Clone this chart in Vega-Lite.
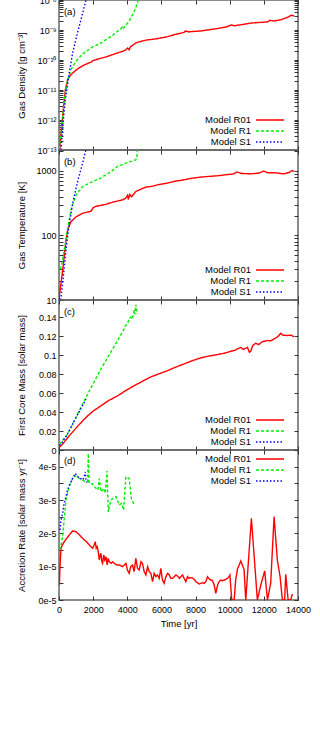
{
  "$schema": "https://vega.github.io/schema/vega-lite/v6.json",
  "padding": {"left": 15, "top": -5, "right": 5, "bottom": 5},
  "bounds": "flush",
  "spacing": 0,
  "config": {
    "font": "Liberation Sans",
    "view": {"stroke": "#666", "strokeWidth": 1.5},
    "axis": {"domain": false, "grid": false, "tickColor": "#333", "tickSize": -4, "labelFontSize": 9, "titleFontSize": 9.5, "titleFontWeight": "normal", "labelColor": "#000", "titleColor": "#000", "labelPadding": 7, "labelOverlap": false, "labelFlush": false},
    "legend": {"symbolType": "M-2.8,0H2.8", "symbolSize": 100, "symbolStrokeWidth": 1.5, "symbolOffset": 22, "labelFontSize": 9.5, "labelAlign": "right", "labelOffset": -25, "rowPadding": 0, "padding": 0, "labelLimit": 200, "labelColor": "#000"}
  },
  "datasets": {
    "density": [
      {"model": "Model R01", "t": 40, "v": 1e-13},
      {"model": "Model R01", "t": 117, "v": 3.6e-13},
      {"model": "Model R01", "t": 250, "v": 2.2e-12},
      {"model": "Model R01", "t": 370, "v": 1e-11},
      {"model": "Model R01", "t": 510, "v": 2.2e-11},
      {"model": "Model R01", "t": 650, "v": 3.0e-11},
      {"model": "Model R01", "t": 800, "v": 3.7e-11},
      {"model": "Model R01", "t": 1000, "v": 4.6e-11},
      {"model": "Model R01", "t": 1190, "v": 5.5e-11},
      {"model": "Model R01", "t": 1500, "v": 6.9e-11},
      {"model": "Model R01", "t": 1775, "v": 8.1e-11},
      {"model": "Model R01", "t": 1900, "v": 8.5e-11},
      {"model": "Model R01", "t": 1970, "v": 9.5e-11},
      {"model": "Model R01", "t": 2100, "v": 1.0e-10},
      {"model": "Model R01", "t": 2400, "v": 1.12e-10},
      {"model": "Model R01", "t": 2750, "v": 1.26e-10},
      {"model": "Model R01", "t": 3200, "v": 1.55e-10},
      {"model": "Model R01", "t": 3725, "v": 1.95e-10},
      {"model": "Model R01", "t": 3900, "v": 2.14e-10},
      {"model": "Model R01", "t": 4020, "v": 2.5e-10},
      {"model": "Model R01", "t": 4100, "v": 2.2e-10},
      {"model": "Model R01", "t": 4200, "v": 2.8e-10},
      {"model": "Model R01", "t": 4350, "v": 3.2e-10},
      {"model": "Model R01", "t": 4500, "v": 3.7e-10},
      {"model": "Model R01", "t": 4800, "v": 4.2e-10},
      {"model": "Model R01", "t": 5090, "v": 4.6e-10},
      {"model": "Model R01", "t": 5380, "v": 4.8e-10},
      {"model": "Model R01", "t": 5800, "v": 5.2e-10},
      {"model": "Model R01", "t": 6360, "v": 6.0e-10},
      {"model": "Model R01", "t": 6800, "v": 7.1e-10},
      {"model": "Model R01", "t": 7330, "v": 8.3e-10},
      {"model": "Model R01", "t": 7400, "v": 9.3e-10},
      {"model": "Model R01", "t": 7600, "v": 8.7e-10},
      {"model": "Model R01", "t": 8300, "v": 9.3e-10},
      {"model": "Model R01", "t": 8800, "v": 1.02e-9},
      {"model": "Model R01", "t": 9280, "v": 1.12e-9},
      {"model": "Model R01", "t": 9800, "v": 1.26e-9},
      {"model": "Model R01", "t": 10100, "v": 1.48e-9},
      {"model": "Model R01", "t": 10260, "v": 1.38e-9},
      {"model": "Model R01", "t": 10700, "v": 1.51e-9},
      {"model": "Model R01", "t": 11230, "v": 1.7e-9},
      {"model": "Model R01", "t": 11700, "v": 1.78e-9},
      {"model": "Model R01", "t": 12210, "v": 1.86e-9},
      {"model": "Model R01", "t": 12350, "v": 2.1e-9},
      {"model": "Model R01", "t": 12600, "v": 2.0e-9},
      {"model": "Model R01", "t": 12990, "v": 2.19e-9},
      {"model": "Model R01", "t": 13380, "v": 2.63e-9},
      {"model": "Model R01", "t": 13600, "v": 3.1e-9},
      {"model": "Model R01", "t": 13770, "v": 2.95e-9},
      {"model": "Model R1", "t": 20, "v": 1.1e-13},
      {"model": "Model R1", "t": 150, "v": 5e-13},
      {"model": "Model R1", "t": 310, "v": 4.7e-12},
      {"model": "Model R1", "t": 420, "v": 1.1e-11},
      {"model": "Model R1", "t": 510, "v": 2.2e-11},
      {"model": "Model R1", "t": 700, "v": 4.8e-11},
      {"model": "Model R1", "t": 1000, "v": 9.1e-11},
      {"model": "Model R1", "t": 1385, "v": 1.58e-10},
      {"model": "Model R1", "t": 1970, "v": 2.75e-10},
      {"model": "Model R1", "t": 2400, "v": 3.5e-10},
      {"model": "Model R1", "t": 2750, "v": 4.8e-10},
      {"model": "Model R1", "t": 3100, "v": 6.3e-10},
      {"model": "Model R1", "t": 3430, "v": 9.1e-10},
      {"model": "Model R1", "t": 3600, "v": 1.05e-9},
      {"model": "Model R1", "t": 3700, "v": 1.25e-9},
      {"model": "Model R1", "t": 3750, "v": 1.1e-9},
      {"model": "Model R1", "t": 3920, "v": 1.48e-9},
      {"model": "Model R1", "t": 4100, "v": 1.9e-9},
      {"model": "Model R1", "t": 4310, "v": 3.3e-9},
      {"model": "Model R1", "t": 4500, "v": 5.5e-9},
      {"model": "Model R1", "t": 4650, "v": 1.05e-8},
      {"model": "Model S1", "t": 117, "v": 1e-13},
      {"model": "Model S1", "t": 215, "v": 6e-13},
      {"model": "Model S1", "t": 370, "v": 4.7e-12},
      {"model": "Model S1", "t": 565, "v": 2.75e-11},
      {"model": "Model S1", "t": 800, "v": 1.74e-10},
      {"model": "Model S1", "t": 1090, "v": 8.3e-10},
      {"model": "Model S1", "t": 1345, "v": 2.95e-9},
      {"model": "Model S1", "t": 1590, "v": 1.05e-8}
    ],
    "temperature": [
      {"model": "Model R01", "t": 10, "v": 11},
      {"model": "Model R01", "t": 117, "v": 18},
      {"model": "Model R01", "t": 215, "v": 29},
      {"model": "Model R01", "t": 410, "v": 85},
      {"model": "Model R01", "t": 510, "v": 122},
      {"model": "Model R01", "t": 700, "v": 163},
      {"model": "Model R01", "t": 1000, "v": 194},
      {"model": "Model R01", "t": 1385, "v": 220},
      {"model": "Model R01", "t": 1775, "v": 233},
      {"model": "Model R01", "t": 1900, "v": 240},
      {"model": "Model R01", "t": 1970, "v": 263},
      {"model": "Model R01", "t": 2125, "v": 280},
      {"model": "Model R01", "t": 2400, "v": 290},
      {"model": "Model R01", "t": 2750, "v": 303},
      {"model": "Model R01", "t": 3200, "v": 330},
      {"model": "Model R01", "t": 3725, "v": 355},
      {"model": "Model R01", "t": 3900, "v": 375},
      {"model": "Model R01", "t": 4020, "v": 420},
      {"model": "Model R01", "t": 4060, "v": 360},
      {"model": "Model R01", "t": 4150, "v": 430},
      {"model": "Model R01", "t": 4250, "v": 395},
      {"model": "Model R01", "t": 4500, "v": 478},
      {"model": "Model R01", "t": 4800, "v": 520},
      {"model": "Model R01", "t": 5090, "v": 560},
      {"model": "Model R01", "t": 5380, "v": 571},
      {"model": "Model R01", "t": 5800, "v": 610},
      {"model": "Model R01", "t": 6360, "v": 645},
      {"model": "Model R01", "t": 6800, "v": 690},
      {"model": "Model R01", "t": 7330, "v": 726},
      {"model": "Model R01", "t": 7700, "v": 760},
      {"model": "Model R01", "t": 8300, "v": 800},
      {"model": "Model R01", "t": 8800, "v": 820},
      {"model": "Model R01", "t": 9280, "v": 837},
      {"model": "Model R01", "t": 9800, "v": 870},
      {"model": "Model R01", "t": 10260, "v": 898},
      {"model": "Model R01", "t": 10400, "v": 960},
      {"model": "Model R01", "t": 10700, "v": 910},
      {"model": "Model R01", "t": 11230, "v": 898},
      {"model": "Model R01", "t": 11700, "v": 920},
      {"model": "Model R01", "t": 12000, "v": 990},
      {"model": "Model R01", "t": 12210, "v": 935},
      {"model": "Model R01", "t": 12700, "v": 930},
      {"model": "Model R01", "t": 13180, "v": 898},
      {"model": "Model R01", "t": 13500, "v": 950},
      {"model": "Model R01", "t": 13650, "v": 1010},
      {"model": "Model R01", "t": 13770, "v": 980},
      {"model": "Model R1", "t": 10, "v": 25},
      {"model": "Model R1", "t": 150, "v": 35},
      {"model": "Model R1", "t": 310, "v": 60},
      {"model": "Model R1", "t": 510, "v": 129},
      {"model": "Model R1", "t": 700, "v": 248},
      {"model": "Model R1", "t": 1000, "v": 426},
      {"model": "Model R1", "t": 1385, "v": 570},
      {"model": "Model R1", "t": 1970, "v": 683},
      {"model": "Model R1", "t": 2400, "v": 760},
      {"model": "Model R1", "t": 2750, "v": 870},
      {"model": "Model R1", "t": 3100, "v": 1000},
      {"model": "Model R1", "t": 3430, "v": 1170},
      {"model": "Model R1", "t": 3700, "v": 1250},
      {"model": "Model R1", "t": 4020, "v": 1340},
      {"model": "Model R1", "t": 4300, "v": 1420},
      {"model": "Model R1", "t": 4500, "v": 1480},
      {"model": "Model R1", "t": 4560, "v": 1600},
      {"model": "Model R1", "t": 4600, "v": 2200},
      {"model": "Model S1", "t": 100, "v": 10},
      {"model": "Model S1", "t": 255, "v": 23},
      {"model": "Model S1", "t": 410, "v": 60},
      {"model": "Model S1", "t": 565, "v": 129},
      {"model": "Model S1", "t": 800, "v": 315},
      {"model": "Model S1", "t": 1090, "v": 680},
      {"model": "Model S1", "t": 1385, "v": 1320},
      {"model": "Model S1", "t": 1590, "v": 2200}
    ],
    "mass": [
      {"model": "Model R01", "t": 20, "v": 0.003},
      {"model": "Model R01", "t": 200, "v": 0.006},
      {"model": "Model R01", "t": 510, "v": 0.013},
      {"model": "Model R01", "t": 800, "v": 0.019},
      {"model": "Model R01", "t": 1090, "v": 0.025},
      {"model": "Model R01", "t": 1400, "v": 0.031},
      {"model": "Model R01", "t": 1680, "v": 0.036},
      {"model": "Model R01", "t": 2000, "v": 0.041},
      {"model": "Model R01", "t": 2460, "v": 0.0466},
      {"model": "Model R01", "t": 2900, "v": 0.052},
      {"model": "Model R01", "t": 3430, "v": 0.057},
      {"model": "Model R01", "t": 3900, "v": 0.0625},
      {"model": "Model R01", "t": 4400, "v": 0.0677},
      {"model": "Model R01", "t": 4900, "v": 0.0725},
      {"model": "Model R01", "t": 5380, "v": 0.077},
      {"model": "Model R01", "t": 5970, "v": 0.081},
      {"model": "Model R01", "t": 6360, "v": 0.0836},
      {"model": "Model R01", "t": 6800, "v": 0.087},
      {"model": "Model R01", "t": 7330, "v": 0.0907},
      {"model": "Model R01", "t": 7800, "v": 0.094},
      {"model": "Model R01", "t": 8300, "v": 0.097},
      {"model": "Model R01", "t": 8800, "v": 0.099},
      {"model": "Model R01", "t": 9280, "v": 0.1005},
      {"model": "Model R01", "t": 9700, "v": 0.102},
      {"model": "Model R01", "t": 10060, "v": 0.104},
      {"model": "Model R01", "t": 10300, "v": 0.105},
      {"model": "Model R01", "t": 10500, "v": 0.107},
      {"model": "Model R01", "t": 10650, "v": 0.108},
      {"model": "Model R01", "t": 10800, "v": 0.106},
      {"model": "Model R01", "t": 11040, "v": 0.108},
      {"model": "Model R01", "t": 11150, "v": 0.103},
      {"model": "Model R01", "t": 11230, "v": 0.104},
      {"model": "Model R01", "t": 11350, "v": 0.11},
      {"model": "Model R01", "t": 11520, "v": 0.1125},
      {"model": "Model R01", "t": 11700, "v": 0.111},
      {"model": "Model R01", "t": 11900, "v": 0.114},
      {"model": "Model R01", "t": 12210, "v": 0.1153},
      {"model": "Model R01", "t": 12400, "v": 0.115},
      {"model": "Model R01", "t": 12600, "v": 0.117},
      {"model": "Model R01", "t": 12800, "v": 0.119},
      {"model": "Model R01", "t": 12990, "v": 0.123},
      {"model": "Model R01", "t": 13100, "v": 0.121},
      {"model": "Model R01", "t": 13380, "v": 0.1206},
      {"model": "Model R01", "t": 13600, "v": 0.121},
      {"model": "Model R01", "t": 13770, "v": 0.119},
      {"model": "Model R1", "t": 20, "v": 0.006},
      {"model": "Model R1", "t": 510, "v": 0.0166},
      {"model": "Model R1", "t": 1090, "v": 0.0378},
      {"model": "Model R1", "t": 1680, "v": 0.059},
      {"model": "Model R1", "t": 2460, "v": 0.0854},
      {"model": "Model R1", "t": 3430, "v": 0.1153},
      {"model": "Model R1", "t": 3800, "v": 0.127},
      {"model": "Model R1", "t": 3900, "v": 0.131},
      {"model": "Model R1", "t": 4020, "v": 0.133},
      {"model": "Model R1", "t": 4100, "v": 0.138},
      {"model": "Model R1", "t": 4200, "v": 0.14},
      {"model": "Model R1", "t": 4300, "v": 0.138},
      {"model": "Model R1", "t": 4400, "v": 0.147},
      {"model": "Model R1", "t": 4450, "v": 0.143},
      {"model": "Model R1", "t": 4500, "v": 0.153},
      {"model": "Model R1", "t": 4550, "v": 0.148},
      {"model": "Model R1", "t": 4600, "v": 0.143},
      {"model": "Model S1", "t": 20, "v": 0.005},
      {"model": "Model S1", "t": 117, "v": 0.006},
      {"model": "Model S1", "t": 500, "v": 0.017},
      {"model": "Model S1", "t": 895, "v": 0.0307},
      {"model": "Model S1", "t": 1200, "v": 0.041},
      {"model": "Model S1", "t": 1580, "v": 0.0536}
    ],
    "accretion": [
      {"model": "Model R01", "t": 20, "v": 0.45e-5},
      {"model": "Model R01", "t": 60, "v": 1.0e-5},
      {"model": "Model R01", "t": 117, "v": 1.55e-5},
      {"model": "Model R01", "t": 200, "v": 1.65e-5},
      {"model": "Model R01", "t": 310, "v": 1.75e-5},
      {"model": "Model R01", "t": 450, "v": 1.85e-5},
      {"model": "Model R01", "t": 600, "v": 1.95e-5},
      {"model": "Model R01", "t": 800, "v": 2.07e-5},
      {"model": "Model R01", "t": 995, "v": 2.05e-5},
      {"model": "Model R01", "t": 1200, "v": 1.95e-5},
      {"model": "Model R01", "t": 1385, "v": 1.85e-5},
      {"model": "Model R01", "t": 1600, "v": 1.75e-5},
      {"model": "Model R01", "t": 1775, "v": 1.65e-5},
      {"model": "Model R01", "t": 1970, "v": 1.55e-5},
      {"model": "Model R01", "t": 2060, "v": 1.65e-5},
      {"model": "Model R01", "t": 2125, "v": 1.75e-5},
      {"model": "Model R01", "t": 2180, "v": 1.55e-5},
      {"model": "Model R01", "t": 2240, "v": 1.6e-5},
      {"model": "Model R01", "t": 2300, "v": 1.45e-5},
      {"model": "Model R01", "t": 2360, "v": 1.2e-5},
      {"model": "Model R01", "t": 2420, "v": 1.35e-5},
      {"model": "Model R01", "t": 2460, "v": 1.4e-5},
      {"model": "Model R01", "t": 2510, "v": 1.15e-5},
      {"model": "Model R01", "t": 2555, "v": 1.1e-5},
      {"model": "Model R01", "t": 2620, "v": 1.35e-5},
      {"model": "Model R01", "t": 2680, "v": 1.2e-5},
      {"model": "Model R01", "t": 2750, "v": 1.3e-5},
      {"model": "Model R01", "t": 2820, "v": 1.05e-5},
      {"model": "Model R01", "t": 2880, "v": 1.25e-5},
      {"model": "Model R01", "t": 2945, "v": 1.15e-5},
      {"model": "Model R01", "t": 3050, "v": 1.1e-5},
      {"model": "Model R01", "t": 3150, "v": 1.15e-5},
      {"model": "Model R01", "t": 3235, "v": 1.1e-5},
      {"model": "Model R01", "t": 3400, "v": 1.05e-5},
      {"model": "Model R01", "t": 3550, "v": 1.05e-5},
      {"model": "Model R01", "t": 3725, "v": 1.0e-5},
      {"model": "Model R01", "t": 3820, "v": 1.05e-5},
      {"model": "Model R01", "t": 3920, "v": 1.1e-5},
      {"model": "Model R01", "t": 4010, "v": 0.9e-5},
      {"model": "Model R01", "t": 4110, "v": 0.8e-5},
      {"model": "Model R01", "t": 4200, "v": 1.0e-5},
      {"model": "Model R01", "t": 4310, "v": 1.05e-5},
      {"model": "Model R01", "t": 4400, "v": 0.85e-5},
      {"model": "Model R01", "t": 4500, "v": 1.25e-5},
      {"model": "Model R01", "t": 4600, "v": 0.95e-5},
      {"model": "Model R01", "t": 4700, "v": 0.9e-5},
      {"model": "Model R01", "t": 4800, "v": 1.15e-5},
      {"model": "Model R01", "t": 4890, "v": 1.1e-5},
      {"model": "Model R01", "t": 4990, "v": 0.85e-5},
      {"model": "Model R01", "t": 5090, "v": 0.75e-5},
      {"model": "Model R01", "t": 5190, "v": 1.0e-5},
      {"model": "Model R01", "t": 5285, "v": 0.85e-5},
      {"model": "Model R01", "t": 5380, "v": 0.8e-5},
      {"model": "Model R01", "t": 5480, "v": 0.55e-5},
      {"model": "Model R01", "t": 5575, "v": 0.8e-5},
      {"model": "Model R01", "t": 5675, "v": 0.7e-5},
      {"model": "Model R01", "t": 5770, "v": 0.75e-5},
      {"model": "Model R01", "t": 5870, "v": 0.65e-5},
      {"model": "Model R01", "t": 5965, "v": 0.95e-5},
      {"model": "Model R01", "t": 6060, "v": 0.6e-5},
      {"model": "Model R01", "t": 6160, "v": 0.5e-5},
      {"model": "Model R01", "t": 6260, "v": 0.7e-5},
      {"model": "Model R01", "t": 6360, "v": 0.8e-5},
      {"model": "Model R01", "t": 6460, "v": 0.75e-5},
      {"model": "Model R01", "t": 6550, "v": 0.65e-5},
      {"model": "Model R01", "t": 6650, "v": 0.65e-5},
      {"model": "Model R01", "t": 6750, "v": 0.7e-5},
      {"model": "Model R01", "t": 6850, "v": 0.75e-5},
      {"model": "Model R01", "t": 6940, "v": 0.72e-5},
      {"model": "Model R01", "t": 7050, "v": 0.65e-5},
      {"model": "Model R01", "t": 7140, "v": 0.7e-5},
      {"model": "Model R01", "t": 7240, "v": 0.75e-5},
      {"model": "Model R01", "t": 7330, "v": 0.65e-5},
      {"model": "Model R01", "t": 7430, "v": 0.55e-5},
      {"model": "Model R01", "t": 7530, "v": 0.7e-5},
      {"model": "Model R01", "t": 7625, "v": 0.65e-5},
      {"model": "Model R01", "t": 7720, "v": 0.67e-5},
      {"model": "Model R01", "t": 7820, "v": 0.66e-5},
      {"model": "Model R01", "t": 7920, "v": 0.62e-5},
      {"model": "Model R01", "t": 8020, "v": 0.55e-5},
      {"model": "Model R01", "t": 8110, "v": 0.52e-5},
      {"model": "Model R01", "t": 8210, "v": 0.48e-5},
      {"model": "Model R01", "t": 8310, "v": 0.5e-5},
      {"model": "Model R01", "t": 8400, "v": 0.52e-5},
      {"model": "Model R01", "t": 8500, "v": 0.5e-5},
      {"model": "Model R01", "t": 8600, "v": 0.55e-5},
      {"model": "Model R01", "t": 8700, "v": 0.7e-5},
      {"model": "Model R01", "t": 8800, "v": 0.63e-5},
      {"model": "Model R01", "t": 8900, "v": 0.6e-5},
      {"model": "Model R01", "t": 8990, "v": 0.58e-5},
      {"model": "Model R01", "t": 9090, "v": 0.45e-5},
      {"model": "Model R01", "t": 9185, "v": 0.2e-5},
      {"model": "Model R01", "t": 9290, "v": 0.45e-5},
      {"model": "Model R01", "t": 9380, "v": 0.55e-5},
      {"model": "Model R01", "t": 9480, "v": 0.6e-5},
      {"model": "Model R01", "t": 9570, "v": 0.58e-5},
      {"model": "Model R01", "t": 9670, "v": 0.6e-5},
      {"model": "Model R01", "t": 9770, "v": 0.62e-5},
      {"model": "Model R01", "t": 9870, "v": 0.65e-5},
      {"model": "Model R01", "t": 9950, "v": 0.7e-5},
      {"model": "Model R01", "t": 10010, "v": 0.75e-5},
      {"model": "Model R01", "t": 10120, "v": 0},
      {"model": "Model R01", "t": 10260, "v": 0},
      {"model": "Model R01", "t": 10350, "v": 0.6e-5},
      {"model": "Model R01", "t": 10450, "v": 0.92e-5},
      {"model": "Model R01", "t": 10650, "v": 1.17e-5},
      {"model": "Model R01", "t": 10840, "v": 0.92e-5},
      {"model": "Model R01", "t": 10940, "v": 0},
      {"model": "Model R01", "t": 11270, "v": 2.45e-5},
      {"model": "Model R01", "t": 11620, "v": 0},
      {"model": "Model R01", "t": 11820, "v": 0.45e-5},
      {"model": "Model R01", "t": 12050, "v": 0.87e-5},
      {"model": "Model R01", "t": 12210, "v": 0},
      {"model": "Model R01", "t": 12400, "v": 0.5e-5},
      {"model": "Model R01", "t": 12600, "v": 2.5e-5},
      {"model": "Model R01", "t": 12790, "v": 1.2e-5},
      {"model": "Model R01", "t": 12950, "v": 0.7e-5},
      {"model": "Model R01", "t": 13085, "v": 0},
      {"model": "Model R01", "t": 13220, "v": 0},
      {"model": "Model R01", "t": 13280, "v": 0.77e-5},
      {"model": "Model R01", "t": 13420, "v": 0},
      {"model": "Model R01", "t": 13570, "v": 0},
      {"model": "Model R01", "t": 13670, "v": 0.18e-5},
      {"model": "Model R1", "t": 20, "v": 1.5e-5},
      {"model": "Model R1", "t": 100, "v": 1.6e-5},
      {"model": "Model R1", "t": 215, "v": 1.9e-5},
      {"model": "Model R1", "t": 300, "v": 2.4e-5},
      {"model": "Model R1", "t": 410, "v": 3.0e-5},
      {"model": "Model R1", "t": 500, "v": 3.2e-5},
      {"model": "Model R1", "t": 600, "v": 3.4e-5},
      {"model": "Model R1", "t": 750, "v": 3.6e-5},
      {"model": "Model R1", "t": 895, "v": 3.7e-5},
      {"model": "Model R1", "t": 1000, "v": 3.72e-5},
      {"model": "Model R1", "t": 1190, "v": 3.65e-5},
      {"model": "Model R1", "t": 1350, "v": 3.6e-5},
      {"model": "Model R1", "t": 1480, "v": 3.57e-5},
      {"model": "Model R1", "t": 1680, "v": 3.55e-5},
      {"model": "Model R1", "t": 1715, "v": 4.39e-5},
      {"model": "Model R1", "t": 1770, "v": 3.5e-5},
      {"model": "Model R1", "t": 1970, "v": 3.48e-5},
      {"model": "Model R1", "t": 2080, "v": 3.4e-5},
      {"model": "Model R1", "t": 2165, "v": 3.35e-5},
      {"model": "Model R1", "t": 2280, "v": 3.3e-5},
      {"model": "Model R1", "t": 2360, "v": 3.64e-5},
      {"model": "Model R1", "t": 2460, "v": 3.25e-5},
      {"model": "Model R1", "t": 2555, "v": 3.3e-5},
      {"model": "Model R1", "t": 2650, "v": 3.35e-5},
      {"model": "Model R1", "t": 2710, "v": 3.2e-5},
      {"model": "Model R1", "t": 2810, "v": 3.87e-5},
      {"model": "Model R1", "t": 2885, "v": 2.64e-5},
      {"model": "Model R1", "t": 3040, "v": 3.0e-5},
      {"model": "Model R1", "t": 3335, "v": 3.1e-5},
      {"model": "Model R1", "t": 3530, "v": 2.85e-5},
      {"model": "Model R1", "t": 3665, "v": 2.9e-5},
      {"model": "Model R1", "t": 3780, "v": 2.7e-5},
      {"model": "Model R1", "t": 3920, "v": 3.7e-5},
      {"model": "Model R1", "t": 4110, "v": 3.65e-5},
      {"model": "Model R1", "t": 4250, "v": 3.0e-5},
      {"model": "Model R1", "t": 4400, "v": 2.88e-5},
      {"model": "Model S1", "t": 60, "v": 2.1e-5},
      {"model": "Model S1", "t": 117, "v": 2.4e-5},
      {"model": "Model S1", "t": 215, "v": 2.6e-5},
      {"model": "Model S1", "t": 300, "v": 2.9e-5},
      {"model": "Model S1", "t": 410, "v": 3.1e-5},
      {"model": "Model S1", "t": 500, "v": 3.3e-5},
      {"model": "Model S1", "t": 600, "v": 3.44e-5},
      {"model": "Model S1", "t": 800, "v": 3.65e-5},
      {"model": "Model S1", "t": 955, "v": 3.8e-5},
      {"model": "Model S1", "t": 1090, "v": 3.7e-5},
      {"model": "Model S1", "t": 1250, "v": 3.65e-5},
      {"model": "Model S1", "t": 1385, "v": 3.6e-5},
      {"model": "Model S1", "t": 1480, "v": 3.7e-5},
      {"model": "Model S1", "t": 1540, "v": 3.84e-5},
      {"model": "Model S1", "t": 1580, "v": 3.6e-5},
      {"model": "Model S1", "t": 1620, "v": 3.52e-5}
    ]
  },
  "resolve": {"legend": {"color": "independent", "strokeDash": "independent"}},
  "vconcat": [
    {
      "width": 239, "height": 150,
      "layer": [
        {
          "data": {"name": "density"},
          "mark": {"type": "line", "clip": true, "strokeWidth": 1.4},
          "encoding": {
            "x": {"field": "t", "type": "quantitative", "scale": {"domain": [0, 14000], "nice": false, "zero": false}, "axis": {"orient": "bottom", "values": [0,2000,4000,6000,8000,10000,12000,14000], "labels": false, "title": null}},
            "y": {"field": "v", "type": "quantitative", "scale": {"type": "log", "domain": [1e-13, 1e-8], "nice": false}, "axis": {"orient": "left", "title": "Gas Density [g cm⁻³]", "titleX": -38, "titleY": 75, "titleBaseline": "middle", "values": [1e-13,2e-13,3e-13,4e-13,5e-13,6e-13,7e-13,8e-13,9e-13,1e-12,2e-12,3e-12,4e-12,5e-12,6e-12,7e-12,8e-12,9e-12,1e-11,2e-11,3e-11,4e-11,5e-11,6e-11,7e-11,8e-11,9e-11,1e-10,2e-10,3e-10,4e-10,5e-10,6e-10,7e-10,8e-10,9e-10,1e-9,2e-9,3e-9,4e-9,5e-9,6e-9,7e-9,8e-9,9e-9,1e-8], "labelExpr": "abs(log(datum.value)/LN10 - round(log(datum.value)/LN10)) < 0.01 ? ['10⁻¹³','10⁻¹²','10⁻¹¹','10⁻¹⁰','10⁻⁹','10⁻⁸'][round(log(datum.value)/LN10) + 13] : ''"}},
            "color": {"field": "model", "type": "nominal", "scale": {"domain": ["Model R01", "Model R1", "Model S1"], "range": ["#ff0000", "#00ee00", "#0000ff"]}, "legend": {"title": null, "orient": "none", "legendX": 183, "legendY": 114}},
            "strokeDash": {"field": "model", "type": "nominal", "scale": {"domain": ["Model R01", "Model R1", "Model S1"], "range": [[1, 0], [3, 2], [1.5, 2]]}, "legend": {"title": null, "orient": "none", "legendX": 183, "legendY": 114}}
          }
        },
        {
          "data": {"values": [{"label": "(a)"}]},
          "mark": {"type": "text", "align": "left", "baseline": "middle", "fontSize": 9.5},
          "encoding": {
            "text": {"field": "label"},
            "x": {"datum": 290, "type": "quantitative", "scale": {"domain": [0, 14000], "nice": false, "zero": false}, "axis": {"orient": "top", "values": [0,2000,4000,6000,8000,10000,12000,14000], "labels": false, "title": null}},
            "y": {"datum": 4.0e-9, "type": "quantitative", "scale": {"type": "log", "domain": [1e-13, 1e-8], "nice": false}, "axis": {"orient": "right", "labels": false, "title": null, "values": [1e-13,2e-13,3e-13,4e-13,5e-13,6e-13,7e-13,8e-13,9e-13,1e-12,2e-12,3e-12,4e-12,5e-12,6e-12,7e-12,8e-12,9e-12,1e-11,2e-11,3e-11,4e-11,5e-11,6e-11,7e-11,8e-11,9e-11,1e-10,2e-10,3e-10,4e-10,5e-10,6e-10,7e-10,8e-10,9e-10,1e-9,2e-9,3e-9,4e-9,5e-9,6e-9,7e-9,8e-9,9e-9,1e-8]}}
          }
        }
      ],
      "resolve": {"axis": {"x": "independent", "y": "independent"}}
    },
    {
      "width": 239, "height": 150,
      "layer": [
        {
          "data": {"name": "temperature"},
          "mark": {"type": "line", "clip": true, "strokeWidth": 1.4},
          "encoding": {
            "x": {"field": "t", "type": "quantitative", "scale": {"domain": [0, 14000], "nice": false, "zero": false}, "axis": {"orient": "bottom", "values": [0,2000,4000,6000,8000,10000,12000,14000], "labels": false, "title": null}},
            "y": {"field": "v", "type": "quantitative", "scale": {"type": "log", "domain": [10, 2100], "nice": false}, "axis": {"orient": "left", "title": "Gas Temperature [K]", "titleX": -38, "titleY": 75, "titleBaseline": "middle", "values": [10,20,30,40,50,60,70,80,90,100,200,300,400,500,600,700,800,900,1000,2000], "labelExpr": "indexof([10,100,1000], datum.value) >= 0 ? format(datum.value, 'd') : ''"}},
            "color": {"field": "model", "type": "nominal", "scale": {"domain": ["Model R01", "Model R1", "Model S1"], "range": ["#ff0000", "#00ee00", "#0000ff"]}, "legend": {"title": null, "orient": "none", "legendX": 183, "legendY": 114}},
            "strokeDash": {"field": "model", "type": "nominal", "scale": {"domain": ["Model R01", "Model R1", "Model S1"], "range": [[1, 0], [3, 2], [1.5, 2]]}, "legend": {"title": null, "orient": "none", "legendX": 183, "legendY": 114}}
          }
        },
        {
          "data": {"values": [{"label": "(b)"}]},
          "mark": {"type": "text", "align": "left", "baseline": "middle", "fontSize": 9.5},
          "encoding": {
            "text": {"field": "label"},
            "x": {"datum": 290, "type": "quantitative", "scale": {"domain": [0, 14000], "nice": false, "zero": false}, "axis": {"orient": "top", "values": [0,2000,4000,6000,8000,10000,12000,14000], "labels": false, "title": null}},
            "y": {"datum": 1390, "type": "quantitative", "scale": {"type": "log", "domain": [10, 2100], "nice": false}, "axis": {"orient": "right", "labels": false, "title": null, "values": [10,20,30,40,50,60,70,80,90,100,200,300,400,500,600,700,800,900,1000,2000]}}
          }
        }
      ],
      "resolve": {"axis": {"x": "independent", "y": "independent"}}
    },
    {
      "width": 239, "height": 150,
      "layer": [
        {
          "data": {"name": "mass"},
          "mark": {"type": "line", "clip": true, "strokeWidth": 1.4},
          "encoding": {
            "x": {"field": "t", "type": "quantitative", "scale": {"domain": [0, 14000], "nice": false, "zero": false}, "axis": {"orient": "bottom", "values": [0,2000,4000,6000,8000,10000,12000,14000], "labels": false, "title": null}},
            "y": {"field": "v", "type": "quantitative", "scale": {"domain": [0, 0.158], "nice": false}, "axis": {"orient": "left", "title": "First Core Mass [solar mass]", "titleX": -38, "titleY": 75, "titleBaseline": "middle", "values": [0,0.02,0.04,0.06,0.08,0.1,0.12,0.14], "format": "~g"}},
            "color": {"field": "model", "type": "nominal", "scale": {"domain": ["Model R01", "Model R1", "Model S1"], "range": ["#ff0000", "#00ee00", "#0000ff"]}, "legend": {"title": null, "orient": "none", "legendX": 183, "legendY": 114}},
            "strokeDash": {"field": "model", "type": "nominal", "scale": {"domain": ["Model R01", "Model R1", "Model S1"], "range": [[1, 0], [3, 2], [1.5, 2]]}, "legend": {"title": null, "orient": "none", "legendX": 183, "legendY": 114}}
          }
        },
        {
          "data": {"values": [{"label": "(c)"}]},
          "mark": {"type": "text", "align": "left", "baseline": "middle", "fontSize": 9.5},
          "encoding": {
            "text": {"field": "label"},
            "x": {"datum": 290, "type": "quantitative", "scale": {"domain": [0, 14000], "nice": false, "zero": false}, "axis": {"orient": "top", "values": [0,2000,4000,6000,8000,10000,12000,14000], "labels": false, "title": null}},
            "y": {"datum": 0.1457, "type": "quantitative", "scale": {"domain": [0, 0.158], "nice": false}, "axis": {"orient": "right", "labels": false, "title": null, "values": [0,0.02,0.04,0.06,0.08,0.1,0.12,0.14]}}
          }
        }
      ],
      "resolve": {"axis": {"x": "independent", "y": "independent"}}
    },
    {
      "width": 239, "height": 150,
      "layer": [
        {
          "data": {"name": "accretion"},
          "mark": {"type": "line", "clip": true, "strokeWidth": 1.4},
          "encoding": {
            "x": {"field": "t", "type": "quantitative", "scale": {"domain": [0, 14000], "nice": false, "zero": false}, "axis": {"orient": "bottom", "values": [0,2000,4000,6000,8000,10000,12000,14000], "title": "Time [yr]", "labelPadding": 9, "titlePadding": 4, "format": "d"}},
            "y": {"field": "v", "type": "quantitative", "scale": {"domain": [0, 4.5e-5], "nice": false}, "axis": {"orient": "left", "title": "Accretion Rate [solar mass  yr⁻¹]", "titleX": -38, "titleY": 75, "titleBaseline": "middle", "values": [0,0.5e-5,1e-5,1.5e-5,2e-5,2.5e-5,3e-5,3.5e-5,4e-5,4.5e-5], "labelExpr": "abs(datum.value*1e5 - round(datum.value*1e5)) < 0.01 ? round(datum.value*1e5) + 'e-5' : ''"}},
            "color": {"field": "model", "type": "nominal", "scale": {"domain": ["Model R01", "Model R1", "Model S1"], "range": ["#ff0000", "#00ee00", "#0000ff"]}, "legend": {"title": null, "orient": "none", "legendX": 183, "legendY": 3}},
            "strokeDash": {"field": "model", "type": "nominal", "scale": {"domain": ["Model R01", "Model R1", "Model S1"], "range": [[1, 0], [3, 2], [1.5, 2]]}, "legend": {"title": null, "orient": "none", "legendX": 183, "legendY": 3}}
          }
        },
        {
          "data": {"values": [{"label": "(d)"}]},
          "mark": {"type": "text", "align": "left", "baseline": "middle", "fontSize": 9.5},
          "encoding": {
            "text": {"field": "label"},
            "x": {"datum": 290, "type": "quantitative", "scale": {"domain": [0, 14000], "nice": false, "zero": false}, "axis": {"orient": "top", "values": [0,2000,4000,6000,8000,10000,12000,14000], "labels": false, "title": null}},
            "y": {"datum": 4.17e-5, "type": "quantitative", "scale": {"domain": [0, 4.5e-5], "nice": false}, "axis": {"orient": "right", "labels": false, "title": null, "values": [0,0.5e-5,1e-5,1.5e-5,2e-5,2.5e-5,3e-5,3.5e-5,4e-5,4.5e-5]}}
          }
        }
      ],
      "resolve": {"axis": {"x": "independent", "y": "independent"}}
    }
  ]
}
